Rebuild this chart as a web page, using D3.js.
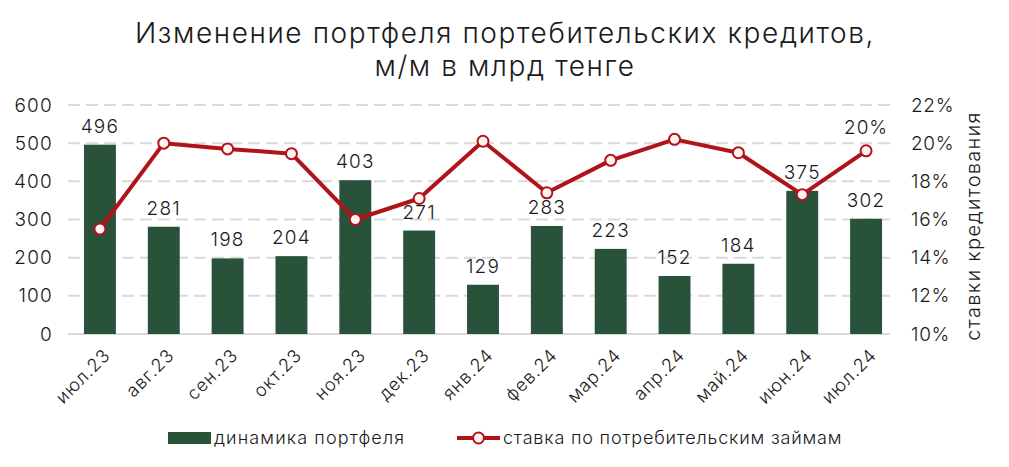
<!DOCTYPE html>
<html><head><meta charset="utf-8">
<script src="https://cdn.jsdelivr.net/npm/d3@7"></script>
<style>body{margin:0;background:#fff}text{font-family:Inter,"Noto Sans",sans-serif;font-weight:300}</style>
</head><body><svg id="c" width="1009" height="467"></svg>
<script>
const categories=["июл.23","авг.23","сен.23","окт.23","ноя.23","дек.23","янв.24","фев.24","мар.24","апр.24","май.24","июн.24","июл.24"];
const portfolio=[496,281,198,204,403,271,129,283,223,152,184,375,302];
const rate=[15.5,20.0,19.7,19.45,16.0,17.1,20.1,17.4,19.1,20.2,19.5,17.3,19.6];
const leftTicks=[0,100,200,300,400,500,600];
const rightTicks=[10,12,14,16,18,20,22];
const green="#29523a", red="#b0141b", grid="#d9d9d9", txt="#1a1a1a";
const F="Inter,'Noto Sans',sans-serif";
const svg=d3.select("#c");
const x=d3.scaleBand().domain(categories).range([68,898]).paddingInner(0.5).paddingOuter(0.25);
const yL=d3.scaleLinear().domain([0,600]).range([334,105]);
const yR=d3.scaleLinear().domain([10,22]).range([334,105]);
// title
svg.append("text").attr("x",505).attr("y",43).attr("text-anchor","middle").attr("font-size",28).attr("letter-spacing",1.6).attr("fill",txt).text("Изменение портфеля портебительских кредитов,");
svg.append("text").attr("x",505).attr("y",76).attr("text-anchor","middle").attr("font-size",28).attr("letter-spacing",1.6).attr("fill",txt).text("м/м в млрд тенге");
// grid
svg.append("g").selectAll("line").data(leftTicks.slice(1)).join("line")
 .attr("x1",68).attr("x2",890).attr("y1",d=>yL(d)).attr("y2",d=>yL(d))
 .attr("stroke",grid).attr("stroke-width",2).attr("stroke-dasharray","12,6");
svg.append("line").attr("x1",68).attr("x2",890).attr("y1",yL(0)).attr("y2",yL(0)).attr("stroke",grid).attr("stroke-width",2);
// left axis
const gl=svg.append("g").attr("transform","translate(53,0)").call(d3.axisLeft(yL).tickValues(leftTicks).tickSize(0).tickPadding(0));
gl.select(".domain").remove();
gl.selectAll("text").attr("font-size",19).attr("letter-spacing",1.2).attr("fill",txt).attr("font-family",F);
// right axis
const gr=svg.append("g").attr("transform","translate(911,0)").call(d3.axisRight(yR).tickValues(rightTicks).tickFormat(d=>d+"%").tickSize(0).tickPadding(0));
gr.select(".domain").remove();
gr.selectAll("text").attr("font-size",19).attr("letter-spacing",0.7).attr("fill",txt).attr("font-family",F);
svg.append("text").attr("transform","translate(980,226) rotate(-90)").attr("text-anchor","middle").attr("font-size",20).attr("letter-spacing",1.3).attr("fill",txt).text("ставки кредитования");
// bars
svg.append("g").selectAll("rect").data(portfolio).join("rect")
 .attr("x",(d,i)=>x(categories[i])).attr("width",x.bandwidth())
 .attr("y",d=>yL(d)).attr("height",d=>yL(0)-yL(d)).attr("fill",green);
svg.append("g").selectAll("text").data(portfolio).join("text")
 .attr("x",(d,i)=>x(categories[i])+x.bandwidth()/2).attr("y",d=>yL(d)-12)
 .attr("text-anchor","middle").attr("font-size",19).attr("letter-spacing",1.2).attr("fill",txt).text(d=>d);
// x axis
const gx=svg.append("g").attr("transform","translate(0,334)").call(d3.axisBottom(x).tickSize(0).tickPadding(0));
gx.select(".domain").remove();
gx.selectAll("text").attr("font-size",18).attr("letter-spacing",0.9).attr("fill",txt).attr("font-family",F)
 .attr("text-anchor","end").attr("transform","translate(7,18) rotate(-45)").attr("dy","0.35em");
// line
const cx=(d,i)=>x(categories[i])+x.bandwidth()/2;
svg.append("path").datum(rate).attr("fill","none").attr("stroke",red).attr("stroke-width",4).attr("stroke-linejoin","round")
 .attr("d",d3.line().x(cx).y(d=>yR(d)));
svg.append("g").selectAll("circle").data(rate).join("circle")
 .attr("cx",cx).attr("cy",d=>yR(d)).attr("r",5.5).attr("fill","#fff4f2").attr("stroke",red).attr("stroke-width",2);
const last=rate.length-1;
svg.append("text").attr("x",cx(rate[last],last)).attr("y",yR(rate[last])-17).attr("text-anchor","middle").attr("font-size",19).attr("letter-spacing",1).attr("fill",txt).text(Math.round(rate[last])+"%");
// legend
svg.append("rect").attr("x",168).attr("y",432).attr("width",43).attr("height",12).attr("fill",green);
svg.append("text").attr("x",214).attr("y",444).attr("font-size",18).attr("letter-spacing",1.1).attr("fill",txt).text("динамика портфеля");
svg.append("line").attr("x1",457).attr("x2",500).attr("y1",438).attr("y2",438).attr("stroke",red).attr("stroke-width",4);
svg.append("circle").attr("cx",478.5).attr("cy",438).attr("r",5.5).attr("fill","#fff4f2").attr("stroke",red).attr("stroke-width",2);
svg.append("text").attr("x",503).attr("y",444).attr("font-size",18).attr("letter-spacing",0.8).attr("fill",txt).text("ставка по потребительским займам");
</script></body></html>
